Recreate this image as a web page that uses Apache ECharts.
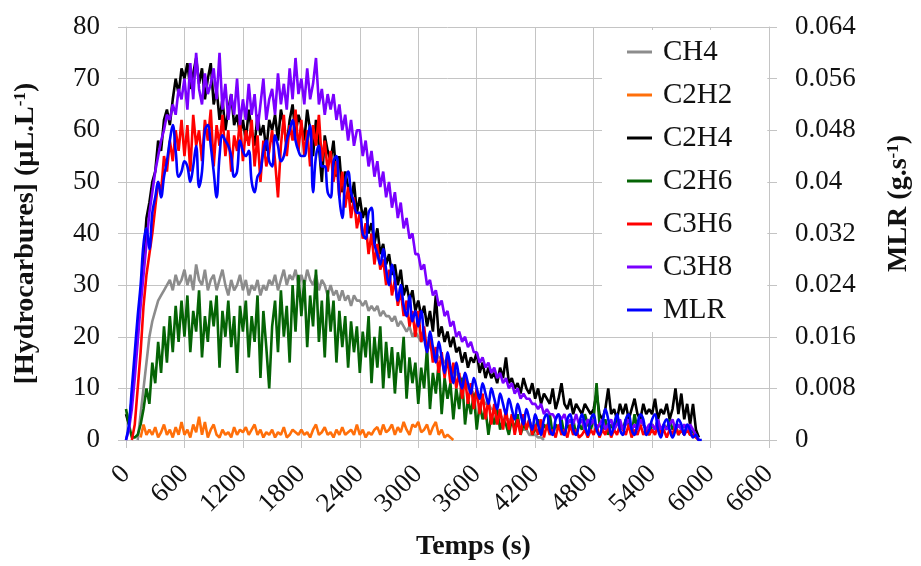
<!DOCTYPE html>
<html lang="fr">
<head>
  <meta charset="UTF-8">
  <title>Hydrocarbures et MLR</title>
  <style>
    html, body { margin: 0; padding: 0; background: #fff; }
    #chart { width: 921px; height: 566px; }
  </style>
  <script src="https://cdn.jsdelivr.net/npm/echarts@6/dist/echarts.min.js"></script>
</head>
<body>
  <div id="chart"></div>
  <script>
    // temps d'acquisition (s), pas de 30 s
    const temps = [
      0,30,60,90,120,150,180,210,240,270,
      300,330,360,390,420,450,480,510,540,570,
      600,630,660,690,720,750,780,810,840,870,
      900,930,960,990,1020,1050,1080,1110,1140,1170,
      1200,1230,1260,1290,1320,1350,1380,1410,1440,1470,
      1500,1530,1560,1590,1620,1650,1680,1710,1740,1770,
      1800,1830,1860,1890,1920,1950,1980,2010,2040,2070,
      2100,2130,2160,2190,2220,2250,2280,2310,2340,2370,
      2400,2430,2460,2490,2520,2550,2580,2610,2640,2670,
      2700,2730,2760,2790,2820,2850,2880,2910,2940,2970,
      3000,3030,3060,3090,3120,3150,3180,3210,3240,3270,
      3300,3330,3360,3390,3420,3450,3480,3510,3540,3570,
      3600,3630,3660,3690,3720,3750,3780,3810,3840,3870,
      3900,3930,3960,3990,4020,4050,4080,4110,4140,4170,
      4200,4230,4260,4290,4320,4350,4380,4410,4440,4470,
      4500,4530,4560,4590,4620,4650,4680,4710,4740,4770,
      4800,4830,4860,4890,4920,4950,4980,5010,5040,5070,
      5100,5130,5160,5190,5220,5250,5280,5310,5340,5370,
      5400,5430,5460,5490,5520,5550,5580,5610,5640,5670,
      5700,5730,5760,5790,5820,5850,5880,5910
    ];

    // concentrations (µL/L)
    const ch4 = [
      null,null,null,null,0,5,10,15,20,23,
      25,27,28,29,30,31,29,32,30,31,
      33,30,32,29,34,31,30,33,29,31,
      32,29,31,33,30,28,31,29,30,32,
      29,31,28,30,29,31,28,30,29,31,
      30,32,29,31,33,30,32,31,33,30,
      32,30,33,31,30,32,29,31,30,28,
      30,28,29,27,29,27,28,26,28,27,
      27,26,27,25,26,25,26,24,25,24,
      24,23,24,22,23,22,21,22,20,21,
      20,19,20,18,18,17,17,16,16,15,
      15,14,14,13,12,12,11,10,10,9,
      9,8,8,7,7,6,6,5,5,4,
      4,4,3,3,3,2,2,2,1,1,
      1,0.5,0.5,0
    ];
    const c2h2 = [
      null,null,null,null,null,0.5,3,1,2,1,
      2.5,0.5,1.5,3,1,2,0.5,2.5,1,3.5,
      1,2,0.5,3,1.5,4.5,1,3.5,0.5,2,
      3,1,0.5,2,1,1.5,0.5,2.5,1,2,
      1.5,2.5,1,2,3,1,2,0.5,1.5,1,
      2,0.5,1.5,1,2.5,0.5,1,2,1.5,1,
      2,1,1.5,0.5,2,3,1,1.5,2.5,1,
      1.5,0.5,2,1,2.5,1,1.5,2,1,3,
      1,2,0.5,1.5,1,2,2.5,1,3,1.5,
      2,3,1,2.5,1.5,3.5,2,1,3,2.5,
      3.5,1.5,2,3,1,2.5,3.5,1,2,0.5,
      1,0.5,0
    ];
    const c2h4 = [
      5,3,8,15,22,28,35,43,46,50,
      52,58,56,62,64,61,66,70,67,72,
      70,73,68,71,74,69,72,66,70,73,
      65,68,62,66,60,64,67,61,63,59,
      62,58,64,60,57,63,59,61,56,62,
      60,63,58,64,61,57,62,65,59,63,
      61,58,64,60,55,62,57,50,59,56,
      54,58,51,55,48,52,49,46,50,44,
      47,43,45,40,42,38,41,36,38,34,
      36,32,34,30,33,28,30,27,29,25,
      27,24,26,22,25,21,28,20,22,19,
      21,18,20,17,18,15,17,14,16,15,
      17,13,15,12,14,12,13,11,14,12,
      16,11,12,10,11,9,12,10,9,11,
      8,10,7,9,8,7,10,6,8,11,
      7,6,8,5,7,6,5,7,6,5,
      6,9,5,4,6,10,5,6,4,7,
      5,7,4,6,8,5,4,7,5,6,
      5,8,4,6,5,7,4,6,10,5,
      9,4,7,3,7,2,0.5
    ];
    const c2h6 = [
      6,3,0.5,0.5,1,3,6,10,7,15,
      11,19,13,22,15,24,17,26,19,27,
      20,28,17,25,21,29,16,24,19,27,
      22,28,14,25,20,27,18,24,13,26,
      21,27,16,24,19,28,12,25,18,10,
      22,27,17,29,20,26,15,30,21,32,
      24,31,18,28,22,33,19,27,16,29,
      21,27,15,25,18,24,14,23,17,22,
      13,21,16,24,11,20,14,22,10,19,
      12,18,9,17,13,20,8,16,11,15,
      7,14,10,18,6,13,9,15,5,12,
      8,11,4,10,6,12,3,8,5,9,
      2,7,4,6,1,5,3,6,2,4,
      3,1,4,2,5,1,3,2,4,1,
      2,4,1,3,2,5,1,3,2,4,
      1,3,2,4,1,3,2,5,3,2,
      4,11,3,2,4,1,3,2,4,3,
      2,4,3,1,5,2,4,3,2,1,
      3,2,4,1,3,2,4,2,3,1,
      2,1,3,1,2,0.5
    ];
    const c3h6 = [
      null,null,0,3,10,17,26,32,36,40,
      45,50,48,55,52,58,54,60,56,62,
      55,61,52,63,57,60,54,62,58,64,
      53,61,57,63,55,60,52,59,56,62,
      54,60,57,62,53,59,50,58,53,56,
      60,54,47,57,63,55,61,58,64,56,
      62,55,60,53,61,57,63,54,58,52,
      56,50,54,47,52,45,49,43,47,41,
      44,39,42,36,40,34,38,33,35,30,
      33,28,31,26,29,24,27,22,25,20,
      25,19,22,17,20,15,18,13,17,12,
      16,11,15,10,13,8,12,7,11,6,
      10,5,9,4,8,3,7,3,6,2,
      6,2,5,1,4,1,5,2,4,1,
      3,1,4,0.5,3,1,2,0.5,3,1,
      2,0.5,3,1,2,0.5,1,2,0.5,2,
      1,3,0.5,2,1,3,0.5,2,1,3,
      2,1,3,0.5,2,1,3,1,2,1,
      2,1,3,1,2,0.5,2,1,3,1,
      2,1,2,1,1,0.5,0
    ];
    const c3h8 = [
      0,2,6,12,19,26,32,38,44,48,
      52,55,58,60,63,62,65,63,68,66,
      70,64,73,66,75,68,65,71,67,69,
      72,66,75,64,69,62,67,63,70,61,
      66,62,69,63,67,60,65,70,62,66,
      68,63,71,65,69,64,72,66,74,67,
      70,65,72,66,69,74,65,68,63,67,
      64,67,62,65,60,63,58,62,57,60,
      60,55,58,53,56,51,54,49,52,47,
      50,45,48,43,46,41,43,39,40,36,
      36,33,34,30,31,28,29,26,27,24,
      25,22,23,20,21,19,20,18,19,17,
      17,15,16,14,15,13,14,12,13,11,
      12,10,11,9,10,8,9,8,8,7,
      7,6,7,5,6,5,5,4,5,4,
      5,3,4,3,5,3,4,2,4,3,
      4,2,3,4,2,3,4,2,3,4,
      2,3,4,2,3,2,4,3,2,3,
      3,2,4,2,3,2,3,4,2,3,
      2,3,2,3,2,1,0
    ];
    // perte de masse (g/s)
    const mlr = [
      0,0.0024,0.008,0.0136,0.0192,0.024,0.0304,0.0328,0.0296,0.0352,
      0.0376,0.04,0.0376,0.0408,0.0432,0.0464,0.0488,0.0448,0.0408,0.0416,
      0.0432,0.0424,0.04,0.0424,0.0456,0.0392,0.0416,0.048,0.0488,0.0456,
      0.0416,0.0376,0.044,0.0472,0.0464,0.0456,0.044,0.0408,0.0416,0.0464,
      0.0448,0.044,0.0448,0.04,0.0384,0.0408,0.0416,0.0448,0.0464,0.0432,
      0.0424,0.0472,0.0456,0.0432,0.044,0.0464,0.048,0.0496,0.0464,0.0448,
      0.044,0.044,0.0464,0.0488,0.0384,0.044,0.0456,0.0424,0.0424,0.0384,
      0.0376,0.0432,0.044,0.0376,0.0344,0.04,0.0416,0.0384,0.0368,0.0352,
      0.0352,0.032,0.0312,0.0352,0.036,0.0304,0.0288,0.0272,0.0296,0.0264,
      0.024,0.0272,0.0248,0.0216,0.024,0.0208,0.0192,0.0224,0.0184,0.02,
      0.0176,0.02,0.016,0.0136,0.0168,0.0144,0.012,0.0152,0.0128,0.0104,
      0.0136,0.0112,0.0088,0.012,0.0096,0.008,0.0104,0.0088,0.0072,0.0096,
      0.008,0.0064,0.0088,0.0072,0.0056,0.008,0.0064,0.0048,0.0072,0.0056,
      0.004,0.0064,0.0048,0.0032,0.0056,0.004,0.0024,0.0048,0.0032,0.0016,
      0.004,0.0024,0.0008,0.0032,0.004,0.0016,0.0008,0.0032,0.004,0.0016,
      0.0008,0.0032,0.004,0.0016,0.0008,0.0024,0.004,0.0024,0.0008,0.0032,
      0.004,0.0016,0.0008,0.0024,0.0048,0.0032,0.0008,0.0024,0.004,0.0016,
      0.0008,0.0032,0.004,0.0016,0.0008,0.0024,0.004,0.0032,0.0008,0.0016,
      0.0032,0.004,0.0016,0.0004,0.0024,0.0032,0.0016,0.0004,0.0016,0.0032,
      0.0024,0.0008,0.0024,0.0016,0.0004,0.0008,0,0
    ];

    const legendOrder = ['CH4', 'C2H2', 'C2H4', 'C2H6', 'C3H6', 'C3H8', 'MLR'];
    const serif = '"Liberation Serif", "DejaVu Serif", serif';
    const gridColor = '#c4c4c4';

    function pairs(values) {
      const out = [];
      values.forEach((v, i) => out.push([temps[i], v]));
      return out;
    }

    function line(name, values, color, axis, width) {
      return {
        name: name,
        type: 'line',
        yAxisIndex: axis,
        data: pairs(values),
        symbol: 'none',
        smooth: name === 'MLR' ? 0.4 : false,
        lineStyle: { color: color, width: width },
        itemStyle: { color: color }
      };
    }

    const chart = echarts.init(document.getElementById('chart'));
    chart.setOption({
      animation: false,
      grid: { left: 126, right: 147, top: 27, bottom: 126 },
      legend: {
        data: legendOrder.map(n => ({ name: n, icon: 'rect' })),
        orient: 'vertical',
        left: 602,
        top: 30,
        backgroundColor: '#fff',
        padding: [7, 35, 7, 25],
        itemWidth: 25,
        itemHeight: 3,
        itemGap: 13,
        textStyle: { fontFamily: serif, fontSize: 29, lineHeight: 30, color: '#111', padding: [0, 0, 0, 6] }
      },
      xAxis: {
        type: 'value',
        min: 0,
        max: 6600,
        interval: 600,
        name: 'Temps (s)',
        nameLocation: 'middle',
        nameGap: 93,
        nameTextStyle: { fontFamily: serif, fontSize: 28, fontWeight: 'bold', color: '#111', padding: [0, 0, 0, 52] },
        axisLine: { show: true, lineStyle: { color: gridColor } },
        axisTick: { show: true, length: 8, lineStyle: { color: gridColor } },
        axisLabel: { rotate: 45, fontFamily: serif, fontSize: 27, color: '#111', margin: 30, formatter: v => String(v) },
        splitLine: { show: true, lineStyle: { color: gridColor } }
      },
      yAxis: [
        {
          type: 'value',
          min: 0,
          max: 80,
          interval: 10,
          name: '[Hydrocarbures] (µL.L{sup|-1})',
          nameLocation: 'middle',
          nameGap: 86,
          nameTextStyle: {
            fontFamily: serif, fontSize: 28, fontWeight: 'bold', color: '#111',
            rich: { sup: { fontFamily: serif, fontSize: 17, fontWeight: 'bold', verticalAlign: 'top', color: '#111' } }
          },
          axisLine: { show: true, lineStyle: { color: gridColor } },
          axisTick: { show: true, length: 8, lineStyle: { color: gridColor } },
          axisLabel: { fontFamily: serif, fontSize: 27, color: '#111', margin: 26 },
          splitLine: { show: true, lineStyle: { color: gridColor } }
        },
        {
          type: 'value',
          position: 'right',
          min: 0,
          max: 0.064,
          interval: 0.008,
          name: 'MLR (g.s{sup|-1})',
          nameLocation: 'middle',
          nameGap: 116,
          nameTextStyle: {
            fontFamily: serif, fontSize: 28, fontWeight: 'bold', color: '#111',
            padding: [0, 0, 0, 60],
            rich: { sup: { fontFamily: serif, fontSize: 17, fontWeight: 'bold', verticalAlign: 'top', color: '#111' } }
          },
          axisLine: { show: true, lineStyle: { color: gridColor } },
          axisTick: { show: true, length: 8, lineStyle: { color: gridColor } },
          axisLabel: { fontFamily: serif, fontSize: 27, color: '#111', margin: 26 },
          splitLine: { show: false }
        }
      ],
      series: [
        line('CH4', ch4, '#8c8c8c', 0, 2.6),
        line('C2H4', c2h4, '#000000', 0, 2.6),
        line('C2H6', c2h6, '#056405', 0, 2.6),
        line('C2H2', c2h2, '#ff6f0a', 0, 2.6),
        line('C3H6', c3h6, '#ff0000', 0, 2.6),
        line('C3H8', c3h8, '#7a00ff', 0, 2.6),
        line('MLR', mlr, '#0000ff', 1, 2.6)
      ]
    });
  </script>
</body>
</html>
